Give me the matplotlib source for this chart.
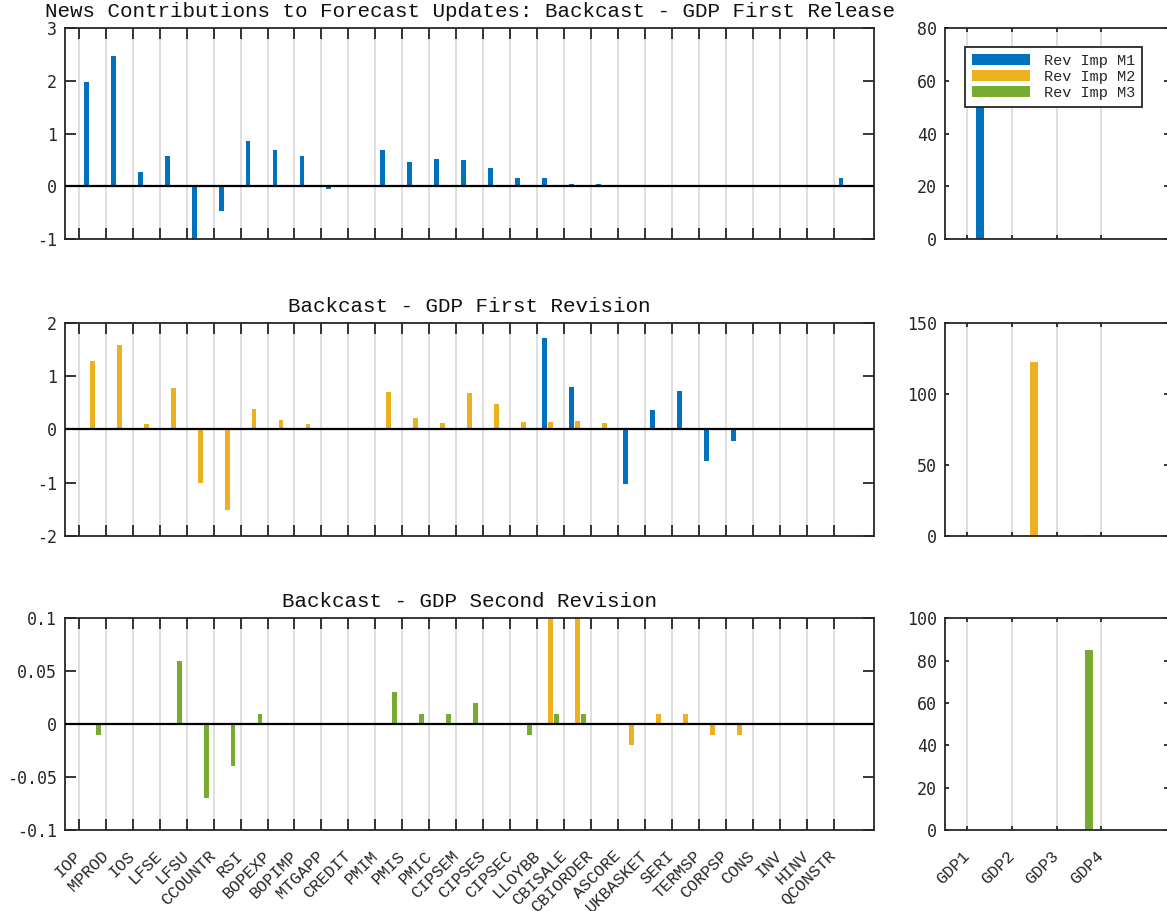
import matplotlib
matplotlib.use('Agg')
import matplotlib.pyplot as plt
import numpy as np

plt.rcParams['axes.unicode_minus'] = False

# ---------------- data ----------------
series_names = ['Rev Imp M1', 'Rev Imp M2', 'Rev Imp M3']

var_labels = ['IOP', 'MPROD', 'IOS', 'LFSE', 'LFSU', 'CCOUNTR', 'RSI', 'BOPEXP',
              'BOPIMP', 'MTGAPP', 'CREDIT', 'PMIM', 'PMIS', 'PMIC', 'CIPSEM',
              'CIPSES', 'CIPSEC', 'LLOYBB', 'CBISALE', 'CBIORDER', 'ASCORE',
              'UKBASKET', 'SERI', 'TERMSP', 'CORPSP', 'CONS', 'INV', 'HINV', 'QCONSTR']

gdp_labels = ['GDP1', 'GDP2', 'GDP3', 'GDP4']

# Backcast - GDP First Release
rel_m1 = [1.98, 2.47, 0.28, 0.58, -0.99, -0.47, 0.86, 0.69, 0.58, -0.04, 0.005,
          0.69, 0.47, 0.52, 0.50, 0.35, 0.16, 0.15, 0.05, 0.05, 0.0, 0.004, 0.004,
          0.0, 0.0, 0.0, 0.0, 0.0, 0.16]
rel_m2 = [0.0] * 29
rel_m3 = [0.0] * 29

# Backcast - GDP First Revision
rev1_m1 = [0, 0, 0, 0, 0, 0, 0, 0, 0, 0, 0, 0, 0, 0, 0, 0, 0,
           1.72, 0.80, 0, -1.03, 0.36, 0.72, -0.60, -0.22, 0, 0, 0, 0]
rev1_m2 = [1.29, 1.59, 0.10, 0.78, -1.01, -1.52, 0.38, 0.175, 0.10, 0, 0,
           0.70, 0.21, 0.12, 0.68, 0.48, 0.14, 0.14, 0.16, 0.12,
           0, 0, 0, 0, 0, 0, 0, 0, 0]
rev1_m3 = [0.0] * 29

# Backcast - GDP Second Revision
rev2_m1 = [0.0] * 29
rev2_m2 = [0, 0, 0, 0, 0, 0, 0, 0, 0, 0, 0, 0, 0, 0, 0, 0, 0,
           0.14, 0.16, 0, -0.02, 0.01, 0.01, -0.01, -0.01, 0, 0, 0, 0]
rev2_m3 = [-0.01, 0, 0, 0.06, -0.07, -0.04, 0.01, 0, 0, 0, 0,
           0.03, 0.01, 0.01, 0.02, 0, -0.01, 0.01, 0.01,
           0, 0, 0, 0, 0, 0, 0, 0, 0, 0]

# Right-hand panels (GDP impacts)
gdp_rel = [[72, 0, 0, 0], [0, 0, 0, 0], [0, 0, 0, 0]]
gdp_rev1 = [[0, 0, 0, 0], [0, 122.5, 0, 0], [0, 0, 0.6, 0]]
gdp_rev2 = [[0, 0, 0, 0], [0, 0, 0, 0], [0, 0, 85, 0]]

titles = ['News Contributions to Forecast Updates: Backcast - GDP First Release',
          'Backcast - GDP First Revision',
          'Backcast - GDP Second Revision']

left_ylims = [(-1, 3), (-2, 2), (-0.1, 0.1)]
left_yticks = [[-1, 0, 1, 2, 3], [-2, -1, 0, 1, 2], [-0.1, -0.05, 0, 0.05, 0.1]]
left_yticklabels = [['-1', '0', '1', '2', '3'], ['-2', '-1', '0', '1', '2'],
                    ['-0.1', '-0.05', '0', '0.05', '0.1']]
right_ylims = [(0, 80), (0, 150), (0, 100)]
right_yticks = [[0, 20, 40, 60, 80], [0, 50, 100, 150], [0, 20, 40, 60, 80, 100]]

left_data = [[rel_m1, rel_m2, rel_m3], [rev1_m1, rev1_m2, rev1_m3],
             [rev2_m1, rev2_m2, rev2_m3]]
right_data = [gdp_rel, gdp_rev1, gdp_rev2]

# ---------------- style ----------------
colors = ['#0072BD', '#EDB120', '#77AC30']
bar_w = 0.18
offsets = [-0.222, 0.0, 0.222]
axcol = '#262626'
mono = 'Liberation Mono'
nummono = 'DejaVu Sans Mono'

fig = plt.figure(figsize=(11.67, 9.11), dpi=100)

rows = [(0.7373, 0.2323), (0.4120, 0.2331), (0.0889, 0.2324)]
left_x0, left_w = 0.0560, 0.6929
right_x0, right_w = 0.8098, 0.1911


def style(ax, ticklen):
    for s in ax.spines.values():
        s.set_linewidth(1.3)
        s.set_color(axcol)
    ax.tick_params(direction='in', top=True, right=True, length=ticklen,
                   width=1.3, color=axcol, labelcolor=axcol)
    ax.grid(axis='x', color='#dcdcdc', linewidth=1.3)
    ax.set_axisbelow(True)


nL = len(var_labels)
xL = np.arange(1, nL + 1)
nR = len(gdp_labels)
xR = np.arange(1, nR + 1)

for r in range(3):
    b, h = rows[r]
    axL = fig.add_axes([left_x0, b, left_w, h])
    style(axL, 8)
    for k in range(3):
        axL.bar(xL + offsets[k], left_data[r][k], width=bar_w, color=colors[k],
                zorder=2)
    axL.axhline(0, color='black', linewidth=1.6, zorder=3)
    axL.set_xlim(0, nL + 1)
    axL.set_ylim(*left_ylims[r])
    axL.set_yticks(left_yticks[r], left_yticklabels[r], fontfamily=nummono,
                   fontsize=12)
    axL.tick_params(axis='y', pad=6)
    axL.set_title(titles[r], fontfamily=mono, fontsize=15, pad=8, color='#111111')
    if r == 2:
        axL.set_xticks(xL - 0.5, var_labels, rotation=45, ha='right',
                       va='center', rotation_mode='anchor', fontfamily=mono,
                       fontsize=12)
        axL.tick_params(axis='x', pad=17)
    else:
        axL.set_xticks(xL - 0.5, [''] * nL)

    axR = fig.add_axes([right_x0, b, right_w, h])
    style(axR, 3)
    handles = []
    for k in range(3):
        hb = axR.bar(xR + offsets[k], right_data[r][k], width=bar_w,
                     color=colors[k], zorder=2)
        handles.append(hb)
    axR.set_xlim(0, nR + 1)
    axR.set_ylim(*right_ylims[r])
    axR.set_yticks(right_yticks[r], [str(v) for v in right_yticks[r]],
                   fontfamily=nummono, fontsize=12)
    axR.tick_params(axis='y', pad=6)
    if r == 2:
        axR.set_xticks(xR - 0.5, gdp_labels, rotation=45, ha='right',
                       va='center', rotation_mode='anchor', fontfamily=mono,
                       fontsize=12)
        axR.tick_params(axis='x', pad=17)
    else:
        axR.set_xticks(xR - 0.5, [''] * nR)
    if r == 0:
        leg = axR.legend(handles, series_names, loc='upper left',
                         bbox_to_anchor=(0.09, 0.91), borderaxespad=0,
                         frameon=True, fancybox=False, edgecolor=axcol,
                         framealpha=1, prop={'family': mono, 'size': 11},
                         handlelength=3.8, handleheight=0.75,
                         handletextpad=0.9, labelspacing=0.15, borderpad=0.45)
        leg.get_frame().set_linewidth(1.3)
        for t in leg.get_texts():
            t.set_color(axcol)

fig.savefig('out.png', dpi=100)
